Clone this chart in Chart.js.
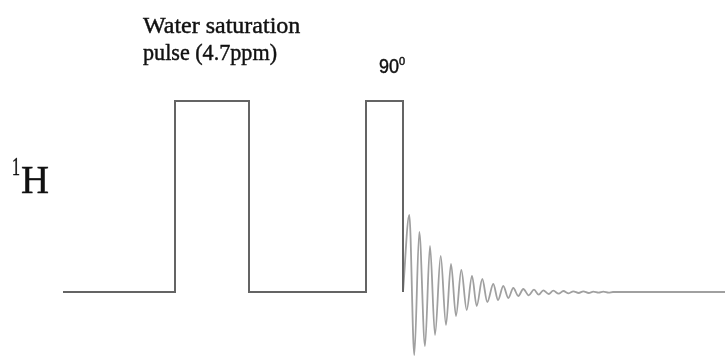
<!DOCTYPE html>
<html>
<head>
<meta charset="utf-8">
<script src="https://cdn.jsdelivr.net/npm/chart.js@4"></script>
<style>
  html, body { margin: 0; padding: 0; background: #fff; }
  #wrap { width: 725px; height: 356px; }
</style>
</head>
<body>
<div id="wrap"><canvas id="chart-1" width="725" height="356"></canvas></div>
<script>
// pulse train on the 1H channel (time units, level above baseline)
const seqTime  = [63, 175, 175, 249, 249, 366, 366, 403, 403];
const seqLevel = [0, 0, 191, 191, 0, 0, 191, 191, 0];

// free induction decay, peaks and troughs
const fidTime = [403, 409.3, 414.3, 419.3, 425, 430, 435, 440.7, 446, 451, 456, 461.3, 466.7,
  472, 476.7, 482.3, 487.3, 493.3, 498, 503.3, 508.3, 513.3, 518.3, 523.3, 528.7, 534, 538.7,
  543.3, 548.7, 553.3, 558.7, 563.3, 568.7, 573.3, 578.7, 583.3, 588.7, 593.3, 598.7, 603.3,
  608.7, 613, 725];
const fidAmp = [0, 77, -63, 60, -54, 46, -43, 36, -33, 28, -24, 22, -18,
  16, -14, 13, -10, 8, -8, 6, -6, 4, -4, 3, -3.3, 2.3, -2.7,
  1.7, -2, 1.3, -1.7, 1, -1.3, 0.7, -1, 0.7, -1, 0.3, -0.7, 0.3,
  -0.7, 0, 0];

const toPoints = (xs, ys) => xs.map((x, i) => ({ x: x, y: ys[i] }));

// labels drawn straight on the canvas (thin stroke to get the heavier look)
const labelPlugin = {
  id: "labels",
  afterDraw(chart) {
    const ctx = chart.ctx;
    const put = (txt, x, y, font, w) => {
      ctx.font = font;
      ctx.fillText(txt, x, y, w);
      ctx.strokeText(txt, x, y, w);
    };
    ctx.save();
    ctx.fillStyle = "#111";
    ctx.strokeStyle = "#111";
    ctx.lineWidth = 0.45;
    ctx.textBaseline = "alphabetic";
    put("Water saturation", 143, 33, "24px 'Liberation Serif'", 159);
    put("pulse (4.7ppm)", 143, 60, "24px 'Liberation Serif'", 134);
    put("90", 379, 73, "20px 'Liberation Sans'", 20);
    put("0", 399, 65, "11px 'Liberation Sans'", 8);
    put("H", 21, 193, "40px 'Liberation Serif'", 28);
    put("1", 12, 175, "25px 'Liberation Serif'", 8);
    ctx.restore();
  }
};

const ctx = document.getElementById("chart-1").getContext("2d");
const myChart = new Chart(ctx, {
  type: "scatter",
  data: {
    datasets: [
      {
        label: "1H sequence",
        data: toPoints(seqTime, seqLevel),
        showLine: true,
        borderColor: "rgba(100, 100, 100, 1)",
        borderWidth: 2,
        pointRadius: 0,
        tension: 0
      },
      {
        label: "FID",
        data: toPoints(fidTime, fidAmp),
        showLine: true,
        borderColor: "rgba(160, 160, 160, 1)",
        borderWidth: 1.8,
        pointRadius: 0,
        cubicInterpolationMode: "monotone"
      }
    ]
  },
  options: {
    responsive: false,
    animation: false,
    events: [],
    layout: { padding: 0 },
    plugins: { legend: { display: false }, tooltip: { enabled: false } },
    scales: {
      x: { type: "linear", min: 0, max: 725, display: false },
      y: { type: "linear", min: -64, max: 292, display: false }
    }
  },
  plugins: [labelPlugin]
});
</script>
</body>
</html>
